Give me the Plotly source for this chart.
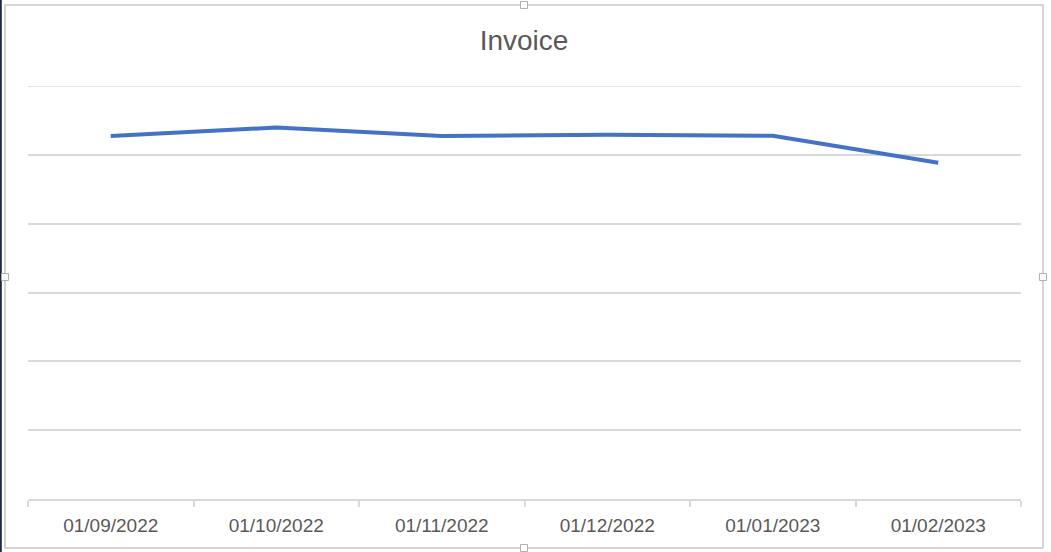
import plotly.graph_objects as go

categories = ["01/09/2022", "01/10/2022", "01/11/2022", "01/12/2022", "01/01/2023", "01/02/2023"]
invoice = [5274, 5397, 5274, 5292, 5278, 4886]
y_max = 6000

W, H = 1051, 552
L, R, T, B = 28, 30, 86, 53
pw, ph = W - L - R, H - T - B

def px(x):
    return (x - L) / pw

def py(y):
    return (H - B - y) / ph

fig = go.Figure()
fig.add_trace(go.Scatter(
    x=categories, y=invoice, mode="lines",
    line=dict(color="#4472C4", width=4, shape="linear"),
    hoverinfo="x+y", showlegend=False,
))

grey = "#d9d9d9"
shapes = [
    dict(type="rect", xref="paper", yref="paper",
         x0=px(5), x1=px(1043), y0=py(5), y1=py(548),
         line=dict(color="#c8c8c8", width=1.5), fillcolor="rgba(0,0,0,0)", layer="below"),
    dict(type="line", xref="paper", yref="paper",
         x0=px(0.8), x1=px(0.8), y0=py(0), y1=py(552),
         line=dict(color="#1f2640", width=2)),
    dict(type="line", xref="paper", yref="y", x0=0, x1=1, y0=y_max, y1=y_max,
         line=dict(color=grey, width=1.5), layer="below"),
]
for hx, hy in [(524, 5), (524, 548), (5, 277), (1043, 277)]:
    shapes.append(dict(type="rect", xref="paper", yref="paper",
                       x0=px(hx - 3.5), x1=px(hx + 3.5), y0=py(hy - 3.5), y1=py(hy + 3.5),
                       line=dict(color="#b0b0b0", width=1), fillcolor="white"))

fig.update_layout(
    width=W, height=H,
    margin=dict(l=L, r=R, t=T, b=B, autoexpand=False),
    paper_bgcolor="white", plot_bgcolor="white",
    title=dict(text="Invoice", x=px(524), xref="paper", xanchor="center",
               y=1 - 40 / H, yanchor="middle",
               font=dict(family="Liberation Sans, Arial, sans-serif", size=28, color="#595959")),
    font=dict(family="Liberation Sans, Arial, sans-serif", color="#595959"),
    shapes=shapes,
    xaxis=dict(type="category", range=[-0.5, len(categories) - 0.5], automargin=False,
               showgrid=False, showline=True, linecolor=grey, linewidth=1.5,
               ticks="outside", tickson="boundaries", ticklen=6, tickcolor=grey, tickwidth=1.5,
               ticklabelstandoff=8,
               tickfont=dict(size=19, color="#595959"), zeroline=False, fixedrange=True),
    yaxis=dict(range=[0, y_max], tickmode="linear", tick0=0, dtick=1000, showgrid=True,
               gridcolor=grey, gridwidth=1.5, automargin=False,
               showticklabels=False, zeroline=False, showline=False, fixedrange=True),
)

fig.write_html("out.html", config={"displayModeBar": False},
               post_script="document.body.style.margin='0';")
